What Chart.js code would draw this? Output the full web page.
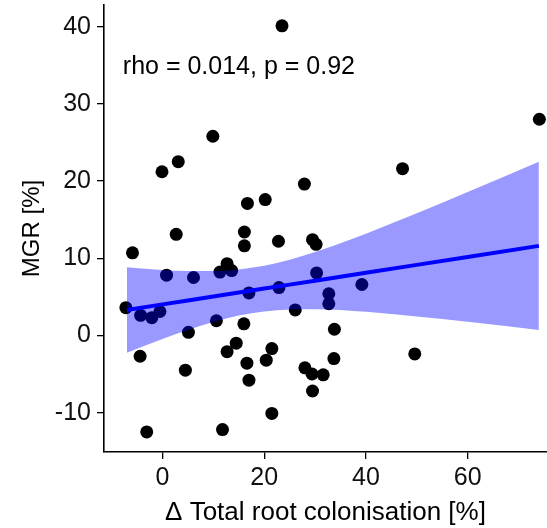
<!DOCTYPE html>
<html>
<head>
<meta charset="utf-8">
<script src="https://cdn.jsdelivr.net/npm/chart.js@4"></script>
<style>
  html, body { margin: 0; padding: 0; background: #fff; }
  #wrap { width: 547px; height: 528px; }
</style>
</head>
<body>
<div id="wrap"><canvas id="mgrChart" width="547" height="528"></canvas></div>
<script>
const colonisation = [23.5, 74.1, 47.2, 9.9, 3.1, -0.1, 27.9, 16.7, 20.2, 2.7,
  16.1, 16.1, 22.8, 29.5, 30.2, -5.9, 12.7, 13.6, 11.3, 0.8,
  6.1, 30.3, 22.9, 39.2, 17.0, 32.7, 32.7, -7.2, -4.3, -2.1,
  -0.5, 10.6, 26.1, 16.0, 33.8, 5.1, 14.5, 12.7, -4.4, 21.5,
  20.4, 16.6, 33.7, 49.6, 4.5, 28.0, 29.4, 31.6, 17.0, 29.5,
  21.5, -3.1, 11.8];
const mgr = [40.1, 28.0, 21.6, 25.8, 22.5, 21.2, 19.6, 17.1, 17.6, 13.1,
  13.4, 11.6, 12.2, 12.4, 11.8, 10.7, 9.3, 8.4, 8.2, 7.8,
  7.5, 8.1, 6.2, 6.6, 5.5, 5.4, 4.1, 3.6, 2.6, 2.3,
  3.1, 1.9, 3.3, 1.5, 0.8, 0.4, -1.0, -2.1, -2.7, -1.7,
  -3.2, -3.6, -3.0, -2.4, -4.5, -4.2, -5.0, -5.1, -5.8, -7.2,
  -10.1, -12.5, -12.2];

// fitted line and its confidence band
const fitX = [-7, 0, 5, 10, 15, 20, 25, 30, 40, 50, 60, 74];
const fitY = [3.30, 4.02, 4.53, 5.04, 5.56, 6.07, 6.58, 7.09, 8.12, 9.14, 10.17, 11.60];
const bandHigh = [8.83, 8.49, 8.35, 8.34, 8.55, 9.03, 9.80, 10.79, 13.18, 15.82, 18.57, 22.50];
const bandLow = [-2.23, -0.45, 0.71, 1.74, 2.57, 3.11, 3.36, 3.39, 3.06, 2.46, 1.77, 0.70];

const xTicks = [0, 20, 40, 60];
const yTicks = [-10, 0, 10, 20, 30, 40];
const statLabel = "rho = 0.014, p = 0.92";

const pair = (xs, ys) => xs.map((x, i) => ({ x: x, y: ys[i] }));

const FONT = "'Liberation Sans', Arial, sans-serif";

const statText = {
  id: 'statText',
  afterDraw(chart) {
    const c = chart.ctx;
    const x = chart.scales.x.getPixelForValue(-7.8);
    const y = chart.scales.y.getPixelForValue(34.8);
    c.save();
    c.font = "25px " + FONT;
    c.fillStyle = "#000";
    c.textAlign = "left";
    c.textBaseline = "middle";
    c.fillText(statLabel, x, y);
    c.restore();
  }
};

const ctx = document.getElementById("mgrChart").getContext("2d");

new Chart(ctx, {
  type: "scatter",
  data: {
    datasets: [
      {
        data: pair(colonisation, mgr),
        backgroundColor: "#000",
        borderWidth: 0,
        pointRadius: 6.5,
        clip: false,
        order: 3
      },
      {
        type: "line",
        data: pair(fitX, bandHigh),
        borderWidth: 0,
        pointRadius: 0,
        fill: false,
        cubicInterpolationMode: "monotone",
        order: 2
      },
      {
        type: "line",
        data: pair(fitX, bandLow),
        borderWidth: 0,
        pointRadius: 0,
        fill: "-1",
        backgroundColor: "rgba(0,0,255,0.4)",
        cubicInterpolationMode: "monotone",
        order: 2
      },
      {
        type: "line",
        data: pair(fitX, fitY),
        borderColor: "#0000ff",
        borderWidth: 4,
        pointRadius: 0,
        fill: false,
        order: 1
      }
    ]
  },
  options: {
    responsive: false,
    animation: false,
    layout: { autoPadding: false, padding: { top: 5, right: 0, left: 0, bottom: 0 } },
    plugins: {
      legend: { display: false },
      tooltip: { enabled: false }
    },
    scales: {
      x: {
        type: "linear",
        min: -11.5,
        max: 75.6,
        afterBuildTicks: (s) => { s.ticks = xTicks.map(v => ({ value: v })); },
        afterFit: (s) => { s.height = 76; s.paddingLeft = 0; s.paddingRight = 0; },
        grid: { drawOnChartArea: false, drawTicks: true, tickLength: 7, color: "#000", lineWidth: 1.3 },
        border: { display: true, color: "#000", width: 1.6 },
        ticks: { color: "#111", font: { family: FONT, size: 25 }, padding: 4, maxRotation: 0 },
        title: {
          display: true,
          text: "Δ Total root colonisation [%]",
          color: "#000",
          font: { family: FONT, size: 26 },
          padding: { top: 0, bottom: 0 }
        }
      },
      y: {
        min: -15.1,
        max: 42.8,
        afterBuildTicks: (s) => { s.ticks = yTicks.map(v => ({ value: v })); },
        afterFit: (s) => { s.width = 104; s.paddingTop = 0; s.paddingBottom = 0; },
        grid: { drawOnChartArea: false, drawTicks: true, tickLength: 7, color: "#000", lineWidth: 1.3 },
        border: { display: true, color: "#000", width: 1.6 },
        ticks: { color: "#111", font: { family: FONT, size: 25 }, padding: 6 },
        title: {
          display: true,
          text: "MGR [%]",
          color: "#000",
          font: { family: FONT, size: 24 },
          padding: { top: 18, bottom: 0 }
        }
      }
    }
  },
  plugins: [statText]
});
</script>
</body>
</html>
